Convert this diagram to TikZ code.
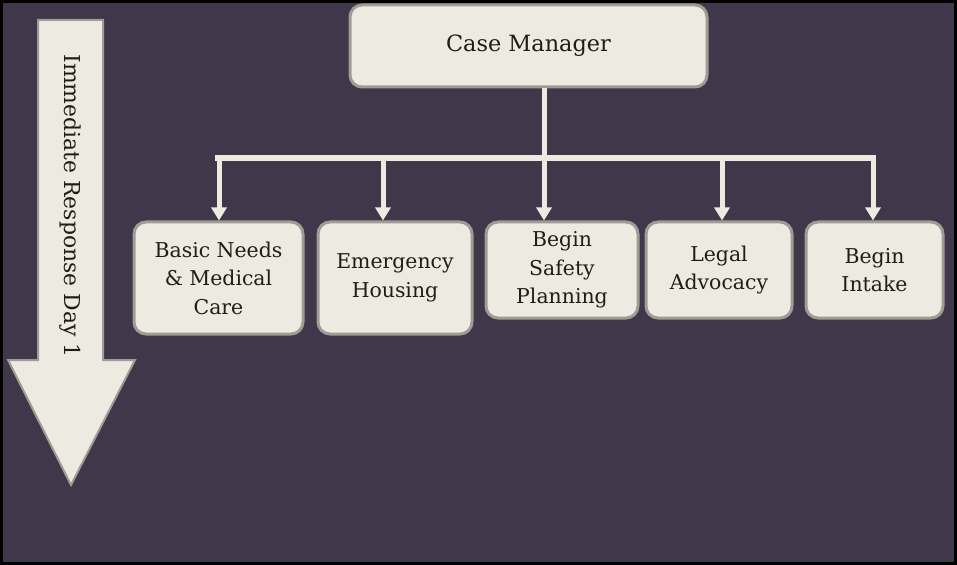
\documentclass[tikz,border=0pt]{standalone}
\usepackage{fontspec}
\setmainfont{DejaVu Serif}
\usetikzlibrary{arrows.meta}
\definecolor{bgpurple}{HTML}{40374A}
\definecolor{cream}{HTML}{EDEBE1}
\definecolor{rim}{HTML}{9E9C94}
\definecolor{ink}{HTML}{1E1E18}
\tikzset{
  box/.style={draw=rim, line width=3bp, fill=cream, rounded corners=12bp,
    text=ink, align=center, inner sep=0pt, font=\fontsize{20.5}{28.5}\selectfont},
  link/.style={draw=cream, line width=5bp},
  linkarrow/.style={draw=cream, line width=5bp,
    -{Triangle[width=15bp,length=13bp]}, fill=cream, shorten >=0bp}
}
\begin{document}
\begin{tikzpicture}[x=1bp,y=-1bp]
\useasboundingbox (0,0) rectangle (957,565);
\fill[bgpurple] (0,0) rectangle (957,565);
\draw[black, line width=3bp] (1.5,1.5) rectangle (955.5,563.5);
% left big arrow
\draw[rim, line width=2bp, fill=cream]
  (38,20) -- (103,20) -- (103,360) -- (135,360) -- (71,485) -- (8,360) -- (38,360) -- cycle;
\node[rotate=-90, text=ink, font=\fontsize{22}{26}\selectfont] (day) at (70,206) {Immediate Response Day 1};
% top
\node[box, minimum width=357bp, minimum height=82bp, font=\fontsize{22.5}{27}\selectfont] (cm) at (528.5,46) {Case Manager};
% children
\node[box, minimum width=169bp, minimum height=112bp] (c1) at (218.5,278) {Basic Needs\\ \& Medical\\ Care};
\node[box, minimum width=154bp, minimum height=112bp] (c2) at (395,278) {Emergency\\ Housing};
\node[box, minimum width=152bp, minimum height=96bp] (c3) at (562,270) {Begin\\ Safety\\ Planning};
\node[box, minimum width=146bp, minimum height=96bp] (c4) at (719,270) {Legal\\ Advocacy};
\node[box, minimum width=137bp, minimum height=96bp] (c5) at (874.5,270) {Begin\\ Intake};
% connectors
\coordinate (hub) at (544,158);
\coordinate (b1) at (219,158);
\coordinate (b2) at (383,158);
\coordinate (b3) at (544,158);
\coordinate (b4) at (722,158);
\coordinate (b5) at (873,158);
\draw[link] (cm.south -| hub) -- (hub);
\draw[cream, line width=6bp] ([xshift=-4bp]b1) -- ([xshift=2.5bp]b5);
\draw[linkarrow] (b1) -- (b1 |- c1.north);
\draw[linkarrow] (b2) -- (b2 |- c2.north);
\draw[linkarrow] (b3) -- (b3 |- c3.north);
\draw[linkarrow] (b4) -- (b4 |- c4.north);
\draw[linkarrow] (b5) -- (b5 |- c5.north);
\end{tikzpicture}
\end{document}
